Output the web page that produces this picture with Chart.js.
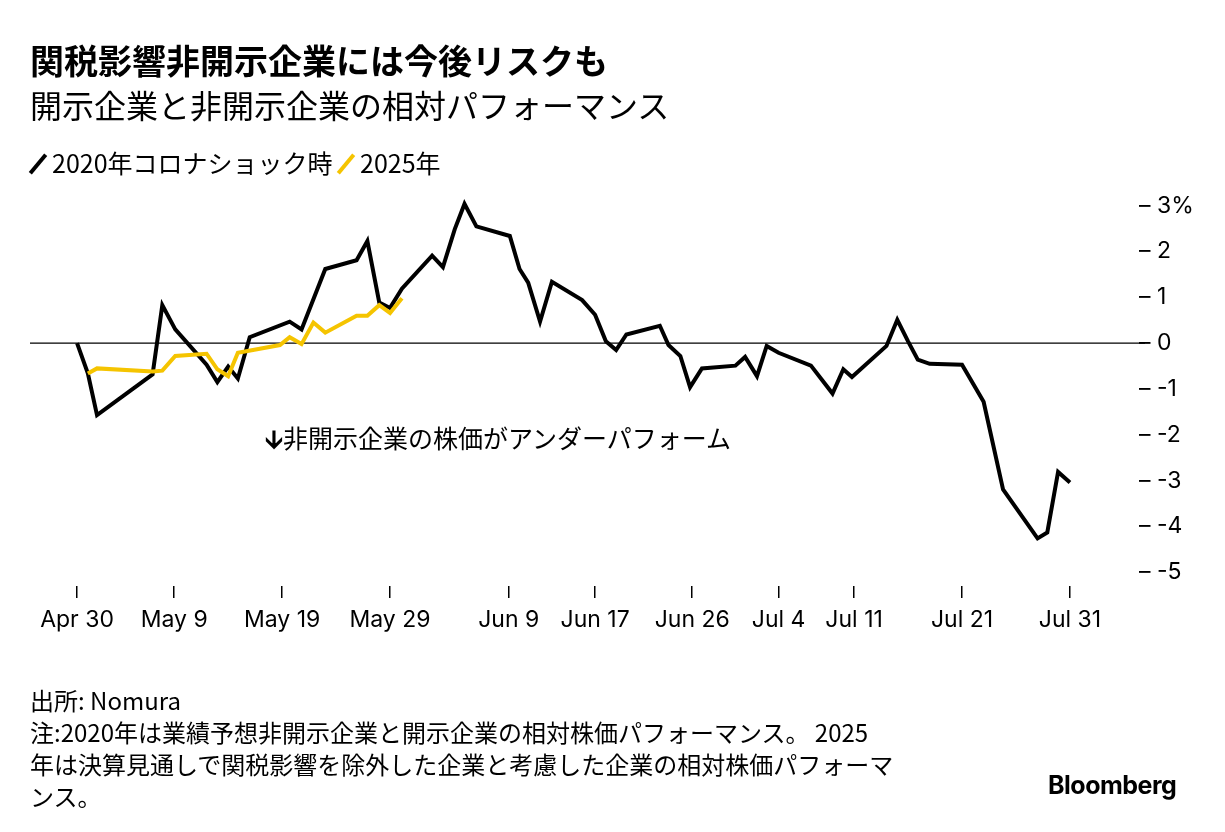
<!DOCTYPE html>
<html><head><meta charset="utf-8">
<script src="https://cdn.jsdelivr.net/npm/chart.js@4"></script>
<style>
body{margin:0;width:1225px;height:832px;background:#fff;font-family:"Noto Sans CJK JP","Noto Sans",sans-serif;color:#000;position:relative;overflow:hidden}
#c{position:absolute;left:0;top:0}
.t{position:absolute;left:30px;white-space:nowrap}
.sw{display:inline-block;width:4px;height:24px;transform:rotate(40deg);margin:0 12px 0 6px;vertical-align:-3px}
</style></head><body>
<canvas id="c" width="1225" height="832"></canvas>
<div class="t" style="top:38px;font-size:34px;font-weight:bold;line-height:44px">関税影響非開示企業には今後リスクも</div>
<div class="t" style="top:83px;font-size:32px;line-height:42px">開示企業と非開示企業の相対パフォーマンス</div>
<div class="t" style="top:145px;font-size:25px;line-height:34px"><span class="sw" style="background:#000"></span>2020年コロナショック時 <span class="sw" style="background:#f5c400"></span>2025年</div>
<div class="t" style="top:420px;left:265px;font-size:25px;line-height:34px"><b>🡫</b>非開示企業の株価がアンダーパフォーム</div>
<div class="t" style="top:684px;font-size:24px;line-height:32px">出所: Nomura<br>注:2020年は業績予想非開示企業と開示企業の相対株価パフォーマンス。 2025<br>年は決算見通しで関税影響を除外した企業と考慮した企業の相対株価パフォーマ<br>ンス。</div>
<div class="t" style="top:770px;left:1048px;font-size:25px;font-weight:bold;font-family:Inter,sans-serif;letter-spacing:-0.5px">Bloomberg</div>
<script>
// days since Apr 30
const tickDays = [0, 9, 19, 29, 40, 48, 57, 65, 72, 82, 92];
const tickLabels = ['Apr 30', 'May 9', 'May 19', 'May 29', 'Jun 9', 'Jun 17', 'Jun 26', 'Jul 4', 'Jul 11', 'Jul 21', 'Jul 31'];

const covidDays = [0,1,1.85,7,7.9,9.1,12,13,14,14.9,16,19.7,20.8,23,25.9,26.9,28,29,30.1,32.9,33.9,35,35.9,37,40.1,41,41.8,42.9,44,46.8,48,49,49.95,50.9,54,54.8,55.9,56.8,57.9,61,61.9,63,63.9,65,68,70,71,71.8,75,76,77,77.9,79,82,84,85.8,89,89.9,90.9,92];
const covidVals = [0,-0.66,-1.57,-0.68,0.83,0.3,-0.47,-0.85,-0.51,-0.77,0.13,0.47,0.3,1.62,1.81,2.23,0.89,0.77,1.19,1.91,1.66,2.49,3.04,2.55,2.34,1.62,1.32,0.47,1.34,0.94,0.62,0.04,-0.15,0.19,0.38,-0.04,-0.28,-0.96,-0.55,-0.49,-0.3,-0.72,-0.06,-0.21,-0.49,-1.1,-0.57,-0.74,-0.06,0.51,0.04,-0.36,-0.45,-0.47,-1.28,-3.19,-4.26,-4.13,-2.81,-3.04];

const y2025Days = [1,1.85,7,7.9,9.1,12,13,14,14.9,18.8,19.7,20.8,21.9,23,25.9,26.9,28,29,30.1];
const y2025Vals = [-0.66,-0.55,-0.62,-0.6,-0.28,-0.23,-0.57,-0.72,-0.21,-0.04,0.13,-0.02,0.45,0.23,0.6,0.6,0.83,0.66,0.98];

const yTicks = [3, 2, 1, 0, -1, -2, -3, -4, -5];

const pts = (xs, ys) => xs.map((x, i) => ({ x, y: ys[i] }));

const zeroLine = {
  id: 'zeroLine',
  beforeDatasetsDraw(chart) {
    const { ctx, chartArea } = chart;
    const y = chart.scales.y.getPixelForValue(0);
    ctx.save();
    ctx.strokeStyle = '#000';
    ctx.lineWidth = 1.2;
    ctx.beginPath();
    ctx.moveTo(chartArea.left, y);
    ctx.lineTo(1145, y);
    ctx.stroke();
    ctx.restore();
  }
};

new Chart(document.getElementById('c'), {
  type: 'line',
  data: {
    datasets: [
      { data: pts(y2025Days, y2025Vals), borderColor: '#f5c400', borderWidth: 4, pointRadius: 0, tension: 0 },
      { data: pts(covidDays, covidVals), borderColor: '#000', borderWidth: 4, pointRadius: 0, tension: 0, borderJoinStyle: 'miter' }
    ]
  },
  options: {
    responsive: false,
    animation: false,
    layout: { padding: { left: 30, top: 192, right: 0, bottom: 0 } },
    plugins: { legend: { display: false }, tooltip: { enabled: false } },
    scales: {
      x: {
        type: 'linear', min: -4.36, max: 97.1,
        afterBuildTicks: (s) => { s.ticks = tickDays.map(v => ({ value: v })); },
        afterFit: (s) => { s.height = 832 - 586; },
        border: { display: false },
        grid: { drawOnChartArea: false, tickLength: 12, color: '#000', lineWidth: 1.5 },
        ticks: {
          padding: 8, color: '#000', maxRotation: 0, autoSkip: false,
          font: { size: 23, family: 'Inter, "Noto Sans", sans-serif' },
          callback: (v) => tickLabels[tickDays.indexOf(v)]
        }
      },
      y: {
        position: 'right', min: -5.3, max: 3.3,
        afterBuildTicks: (s) => { s.ticks = yTicks.map(v => ({ value: v })); },
        afterFit: (s) => { s.width = 100; },
        border: { display: false },
        grid: { display: false },
        ticks: {
          padding: 6, color: '#000',
          font: { size: 23, family: 'Inter, "Noto Sans", sans-serif' },
          callback: (v) => '– ' + v + (v === 3 ? '%' : '')
        }
      }
    }
  },
  plugins: [zeroLine]
});
</script>
</body></html>
